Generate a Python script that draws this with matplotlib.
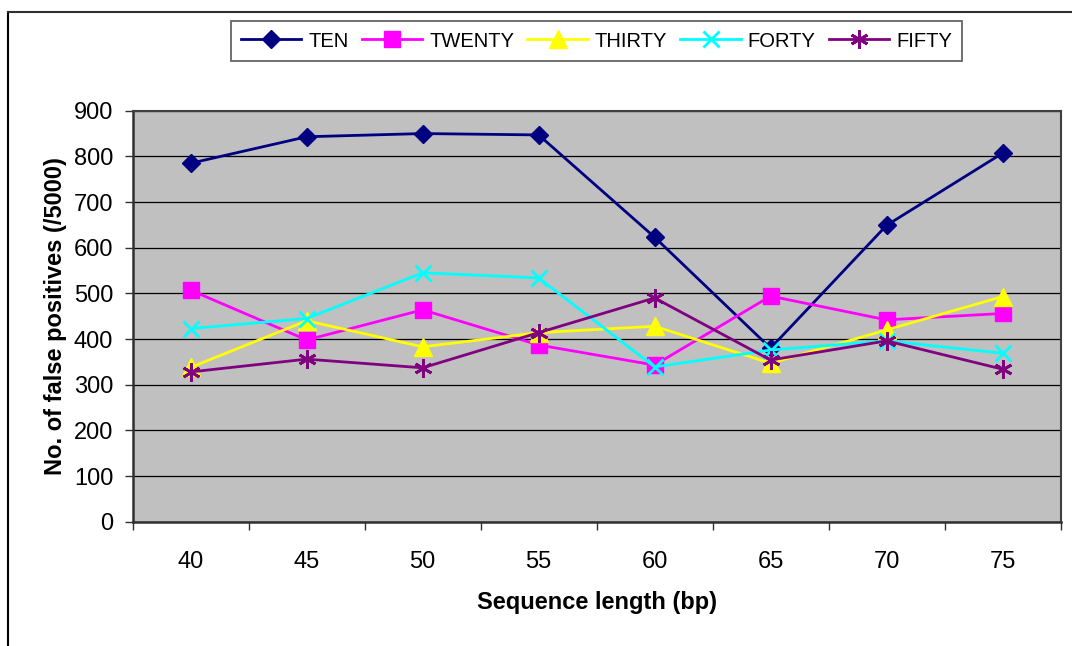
import matplotlib
matplotlib.use("Agg")
import matplotlib.pyplot as plt
from matplotlib.lines import Line2D
import numpy as np

# sequence lengths (bp) and false-positive counts per 5000 for each run
lengths = ["40", "45", "50", "55", "60", "65", "70", "75"]
ten = [785, 843, 850, 847, 623, 380, 649, 807]
twenty = [507, 398, 464, 387, 343, 494, 442, 456]
thirty = [338, 440, 383, 414, 428, 347, 420, 493]
forty = [423, 445, 545, 534, 339, 376, 396, 369]
fifty = [328, 356, 337, 414, 490, 354, 396, 334]
series_names = ["TEN", "TWENTY", "THIRTY", "FORTY", "FIFTY"]
yticks = [0, 100, 200, 300, 400, 500, 600, 700, 800, 900]

plt.rcParams['font.family'] = ['Liberation Sans', 'DejaVu Sans']

fig = plt.figure(figsize=(10.72, 6.46), dpi=100)
ax = fig.add_axes([0.1238, 0.1924, 0.8655, 0.6362])
ax.set_facecolor("#C0C0C0")

styles = [
    dict(color="#000080", marker="D", ms=9.5),
    dict(color="#FF00FF", marker="s", ms=11.5),
    dict(color="#FFFF00", marker="^", ms=12.5),
    dict(color="#00FFFF", marker="x", ms=12, mew=2),
    dict(color="#800080", marker=(6, 2, 0), ms=13, mew=2),
]
x = np.arange(len(lengths))
for name, vals, st in zip(series_names, [ten, twenty, thirty, forty, fifty], styles):
    ax.plot(x, vals, lw=2, label=name, zorder=3, **st)

ax.set_xlim(-0.5, len(lengths) - 0.5)
ax.set_ylim(0, 900)
ax.set_yticks(yticks)
ax.yaxis.grid(True, color="black", lw=0.9)
ax.set_axisbelow(True)

# category ticks sit between categories, labels in the middle
ax.set_xticks(np.arange(-0.5, len(lengths), 1.0))
ax.set_xticklabels([])
ax.set_xticks(x, minor=True)
ax.set_xticklabels(lengths, minor=True)
ax.tick_params(axis="x", which="major", direction="out", length=6, width=1, color="#303030")
ax.tick_params(axis="x", which="minor", length=0, pad=21, labelsize=17)
ax.tick_params(axis="y", direction="out", length=6, width=1, color="#303030", pad=8, labelsize=17)

for side in ["top", "right"]:
    ax.spines[side].set_color("#404040")
    ax.spines[side].set_linewidth(1.5)
for side in ["left", "bottom"]:
    ax.spines[side].set_color("#303030")
    ax.spines[side].set_linewidth(1.8)

ax.set_xlabel("Sequence length (bp)", fontsize=17, fontweight="bold", labelpad=13)
ax.set_ylabel("No. of false positives (/5000)", fontsize=17, fontweight="bold", labelpad=5)

leg = fig.legend(loc="center", bbox_to_anchor=(0.5565, 0.9365), ncol=5,
                 prop={"size": 14.5},
                 handlelength=3.0, handletextpad=0.35, columnspacing=0.65,
                 borderpad=0.5, fancybox=False, frameon=True)
leg.get_frame().set_edgecolor("#404040")
leg.get_frame().set_linewidth(1.3)

# outer chart frame (left and top edges)
fx = 7.5 / 1072
fy = 1 - 11.5 / 646
fig.add_artist(Line2D([fx, fx], [0, fy], transform=fig.transFigure, color="black", lw=1.5))
fig.add_artist(Line2D([fx, 1], [fy, fy], transform=fig.transFigure, color="#303030", lw=1.5))

fig.savefig("out.png", dpi=100)
